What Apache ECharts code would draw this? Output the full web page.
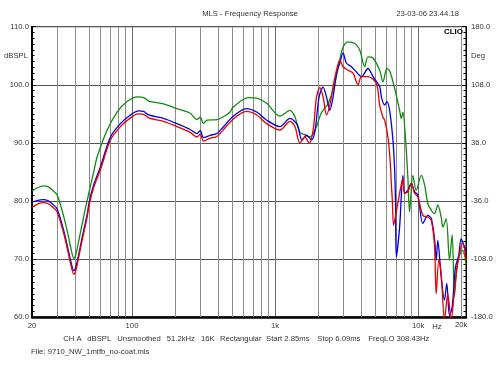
<!DOCTYPE html>
<html><head><meta charset="utf-8">
<script src="https://cdn.jsdelivr.net/npm/echarts@6/dist/echarts.min.js"></script>
<style>html,body{margin:0;padding:0;background:#fff}#c{width:500px;height:375px}</style>
</head><body><div id="c"></div>
<script>
// ---- data (frequency Hz, level dBSPL) ----
const greenData = [[20,81.7],[22,82.3],[24,82.6],[26,82.4],[28,81.8],[30,81.0],[33.4,77.2],[35.5,74.5],[37.2,72.1],[39.2,70.1],[40.5,70.8],[42.5,73.2],[44.9,76.1],[48.5,80.0],[54,85.0],[57.1,87.6],[67.1,92.2],[78.7,95.3],[92.4,97.1],[108.5,97.9],[120.7,97.8],[130.8,97.2],[166,96.7],[206,95.9],[255,95.1],[284,94.0],[300,94.4],[316,93.3],[334,93.9],[392,94.0],[436,94.5],[485,95.3],[511,96.2],[650,97.8],[744,97.7],[874,96.8],[1082,94.6],[1270,95.6],[1376,94.5],[1491,91.8],[1616,91.4],[1750,91.0],[1846,91.6],[1949,92.8],[2100,95.1],[2350,96.8],[2615,100.2],[2834,104.3],[2988,106.5],[3236,107.4],[3606,107.1],[3905,106.0],[4232,103.1],[4462,104.8],[4834,104.6],[5383,102.5],[5676,100.5],[6051,102.8],[6319,102.4],[6848,99.4],[7421,95.6],[7626,94.2],[7824,95.3],[8170,90.5],[8476,84.0],[8710,78.1],[9184,84.4],[9700,81.8],[10512,84.4],[11084,82.8],[11686,79.5],[12338,78.4],[13010,77.8],[13720,79.3],[14488,77.2],[14866,75.5],[15700,76.9],[16552,69.8],[17286,74.2],[17936,63.5],[18608,68.5],[19434,70.6],[20490,71.5],[21634,69.0]];
const blueData = [[20,79.8],[22,80.1],[24,80.2],[26,80.0],[28,79.4],[30,78.6],[33.4,74.8],[35.5,72.0],[37.2,69.8],[39.2,68.0],[40.5,68.6],[42.5,70.9],[44.9,73.8],[48.5,77.6],[50.5,80.1],[54,82.8],[60.2,85.9],[70.7,91.0],[83,93.3],[97.5,94.8],[111,95.5],[120.7,95.4],[130.8,94.8],[166,94.2],[206,93.3],[255,92.3],[284,91.6],[300,92.1],[316,90.9],[352,91.3],[392,91.6],[430,92.6],[511,94.6],[630,95.9],[744,95.3],[874,93.9],[1082,92.8],[1270,94.2],[1430,93.1],[1540,90.5],[1660,91.3],[1799,90.5],[1900,92.0],[2032,97.9],[2166,99.6],[2288,97.9],[2413,95.6],[2544,97.9],[2688,102.0],[2834,103.7],[2988,105.5],[3155,103.7],[3418,103.1],[3705,102.2],[4014,101.4],[4462,102.8],[4834,101.4],[5383,99.7],[5532,97.9],[5832,96.5],[6051,97.1],[6319,95.6],[6662,90.5],[6850,85.3],[6950,79.6],[7036,70.3],[7421,75.5],[7824,84.4],[8040,81.3],[8476,81.8],[8952,83.0],[9440,81.6],[9954,81.0],[10786,76.1],[11686,77.5],[12338,77.0],[13010,73.5],[13370,69.8],[13720,73.2],[14488,66.9],[15276,62.9],[15852,65.8],[16552,60.3],[17286,61.7],[18226,68.6],[19218,70.6],[19968,73.5],[21054,72.1],[21634,71.2]];
const redData = [[20,78.9],[22,79.5],[24,79.7],[26,79.5],[28,78.9],[30,78.1],[33.4,74.3],[35.5,71.5],[37.2,69.2],[39.2,67.4],[40.5,68.0],[42.5,70.4],[44.9,73.3],[48.5,77.1],[50.5,79.6],[54,82.3],[60.2,85.4],[70.7,90.5],[83,92.8],[97.5,94.3],[110,95.0],[120.7,94.9],[130.8,94.3],[166,93.7],[206,92.8],[255,91.8],[284,91.0],[300,91.5],[316,90.3],[352,90.8],[392,91.1],[430,92.1],[511,94.1],[630,95.4],[744,94.8],[874,93.3],[1082,92.2],[1270,93.7],[1376,92.8],[1491,90.0],[1616,91.0],[1731,89.9],[1846,92.2],[1949,97.9],[2055,99.5],[2166,97.9],[2288,94.8],[2413,96.5],[2544,99.7],[2688,102.5],[2834,104.3],[2988,103.1],[3236,102.5],[3508,102.0],[3800,100.0],[4014,101.4],[4462,101.4],[5105,100.2],[5383,96.5],[5676,94.4],[5832,93.9],[6149,91.0],[6390,86.5],[6493,83.0],[6600,80.1],[6738,75.8],[7036,78.1],[7421,81.3],[7824,83.9],[8040,81.3],[8476,81.6],[8952,83.0],[9440,81.3],[9954,80.7],[10786,77.5],[11686,77.2],[12338,76.7],[13010,72.4],[13370,64.0],[13942,69.8],[14488,67.5],[15276,59.5],[16106,64.0],[17008,59.5],[17936,64.6],[18608,68.0],[19434,70.9],[20490,72.7],[21634,69.8]];

const minorGridFreqs = [30,40,50,60,70,80,90,200,300,400,500,600,700,800,900,2000,3000,4000,5000,6000,7000,8000,9000,20000];
const xLabelMap = {20:'20',100:'100',1000:'1k',10000:'10k'};
const titleText = 'MLS - Frequency Response';
const dateText = '23-03-06 23.44.18';
const infoItems = [['CH A',63.3],['dBSPL',87.3],['Unsmoothed',117.3],['51.2kHz',166.7],['16K',201],['Rectangular',220],['Start 2.85ms',266],['Stop 6.09ms',317.3],['FreqLO 308.43Hz',368.3]];
const fileText = 'File: 9710_NW_1mtfb_no-coat.mls';

const FONT = '"Liberation Sans", Arial, sans-serif';
const FS = 7.7;
const TXT = '#333';
const chart = echarts.init(document.getElementById('c'), null, {renderer:'canvas'});

const graphics = [
  {type:'text', style:{text:titleText, x:250, y:14, textAlign:'center', textVerticalAlign:'middle', fill:TXT, font:FS+'px '+FONT}},
  {type:'text', style:{text:dateText, x:459, y:14, textAlign:'right', textVerticalAlign:'middle', fill:TXT, font:FS+'px '+FONT}},
  {type:'text', z:100, style:{text:'CLIO', x:463, y:32, textAlign:'right', textVerticalAlign:'middle', fill:'#000', font:'bold 8px '+FONT}},
  {type:'text', style:{text:'dBSPL', x:28, y:56, textAlign:'right', textVerticalAlign:'middle', fill:TXT, font:FS+'px '+FONT}},
  {type:'text', style:{text:'Deg', x:471, y:56, textAlign:'left', textVerticalAlign:'middle', fill:TXT, font:FS+'px '+FONT}},
  {type:'text', style:{text:'Hz', x:437, y:326.7, textAlign:'center', textVerticalAlign:'middle', fill:TXT, font:FS+'px '+FONT}},
  {type:'text', style:{text:fileText, x:31, y:352, textAlign:'left', textVerticalAlign:'middle', fill:TXT, font:FS+'px '+FONT}}
];
infoItems.forEach(([t,x]) => graphics.push({type:'text', style:{text:t, x:x, y:339.3, textAlign:'left', textVerticalAlign:'middle', fill:TXT, font:FS+'px '+FONT}}));

const lineSeries = (name, data, color) => ({
  name, type:'line', data, showSymbol:false, smooth:0.3, z:3, clip:true,
  lineStyle:{color, width:1.3}, itemStyle:{color}, animation:false
});

chart.setOption({
  animation:false,
  backgroundColor:'#fff',
  grid:{left:32, right:34, top:26.7, bottom:58, show:true, borderColor:'#000', borderWidth:1, containLabel:false},
  xAxis:{type:'log', logBase:10, min:20, max:21600,
    axisLine:{show:true, lineStyle:{color:'#000', width:2.5}},
    axisTick:{show:false},
    axisLabel:{formatter:v=>xLabelMap[Math.round(v)]||'', margin:5, fontSize:FS, color:TXT, fontFamily:FONT, showMinLabel:true, showMaxLabel:true},
    splitLine:{show:true, lineStyle:{color:'#6a6a6a', width:1}}
  },
  yAxis:[
    {type:'value', min:60, max:110, interval:10, position:'left',
      axisLine:{show:true, lineStyle:{color:'#000', width:2}},
      axisTick:{show:true, inside:true, length:4, lineStyle:{color:'#000'}},
      minorTick:{show:true, splitNumber:10, length:2.5, lineStyle:{color:'#000'}},
      axisLabel:{formatter:v=>v.toFixed(1), margin:3, fontSize:FS, color:TXT, fontFamily:FONT},
      splitLine:{show:true, lineStyle:{color:'#555', width:1}}
    },
    {type:'value', min:0, max:360, interval:72, position:'right',
      axisLine:{show:true, lineStyle:{color:'#000', width:1}},
      axisTick:{show:true, inside:true, length:4, lineStyle:{color:'#000'}},
      minorTick:{show:true, splitNumber:10, length:2.5, lineStyle:{color:'#000'}},
      axisLabel:{formatter:v=>(v-180).toFixed(1), margin:5, fontSize:FS, color:TXT, fontFamily:FONT},
      splitLine:{show:false}
    }
  ],
  graphic:graphics,
  series:[
    {type:'line', data:[], z:1, silent:true,
      markLine:{z:1, silent:true, animation:false, symbol:['none','none'],
        lineStyle:{color:'#8c8c8c', width:1, type:'solid'},
        label:{show:false},
        emphasis:{disabled:true},
        data:minorGridFreqs.map(f => f===20000
          ? {xAxis:f, label:{show:true, position:'start', formatter:'20k', distance:4, fontSize:FS, color:TXT, fontFamily:FONT}}
          : {xAxis:f})
      }
    },
    lineSeries('green', greenData, '#118a11'),
    lineSeries('blue', blueData, '#0000e6'),
    lineSeries('red', redData, '#e60000')
  ]
});
</script></body></html>
